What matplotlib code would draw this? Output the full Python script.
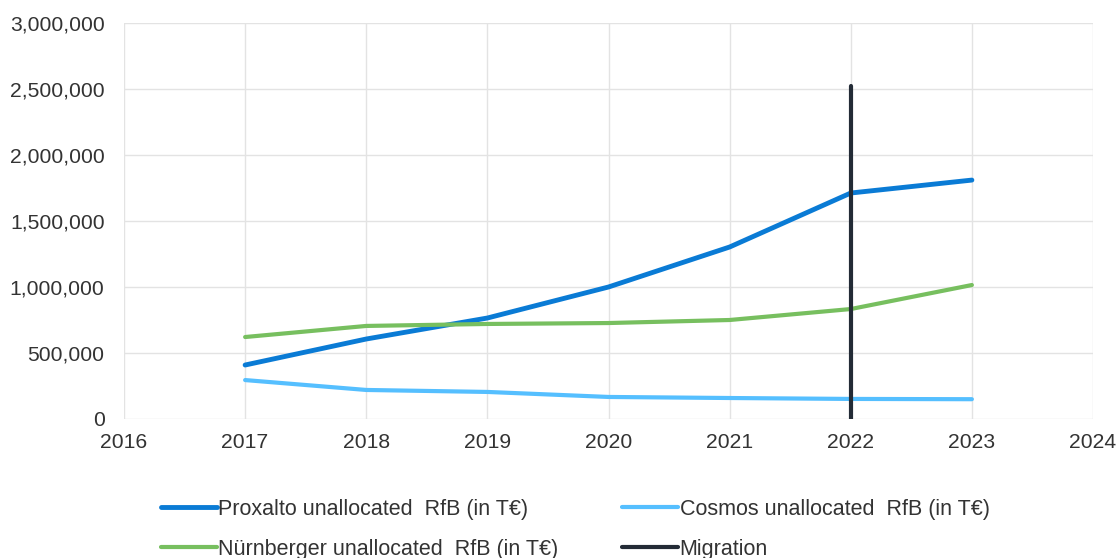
import matplotlib.pyplot as plt
from matplotlib.ticker import FuncFormatter

plt.rcParams['font.family'] = ['Liberation Sans', 'DejaVu Sans']

# values
years = [2017, 2018, 2019, 2020, 2021, 2022, 2023]
proxalto = [409000, 606000, 765000, 1000000, 1303000, 1712000, 1810000]
cosmos = [295000, 220000, 205000, 167000, 159000, 152000, 150000]
nuernberger = [621000, 705000, 720000, 727000, 750000, 833000, 1015000]
migration_x = [2022, 2022]
migration_y = [0, 2523000]

labels = ['Proxalto unallocated  RfB (in T€)', 'Cosmos unallocated  RfB (in T€)',
          'Nürnberger unallocated  RfB (in T€)', 'Migration']

text_color = '#333333'

fig = plt.figure(figsize=(11.19, 5.58), dpi=100)
ax = fig.add_axes([124 / 1119, 1 - 419 / 558, (1093 - 124) / 1119, (419 - 23) / 558])

l1, = ax.plot(years, proxalto, color='#0a7bd5', lw=3.5, solid_capstyle='round', zorder=3)
l2, = ax.plot(years, cosmos, color='#55bfff', lw=3.0, solid_capstyle='round', zorder=3)
l3, = ax.plot(years, nuernberger, color='#77bf5f', lw=3.0, solid_capstyle='round', zorder=3)
l4, = ax.plot(migration_x, migration_y, color='#232b36', lw=3.0, solid_capstyle='round', zorder=4)

ax.set_xlim(2016, 2024)
ax.set_ylim(0, 3000000)
ax.set_xticks(range(2016, 2025))
ax.set_yticks(range(0, 3000001, 500000))
ax.yaxis.set_major_formatter(FuncFormatter(lambda v, p: f'{int(v):,}'))
ax.grid(True, color='#e3e3e3', lw=1.0)
ax.set_axisbelow(True)
for s in ax.spines.values():
    s.set_visible(False)
ax.tick_params(length=0, labelsize=15.2, colors=text_color)
ax.tick_params(axis='y', pad=14)
ax.tick_params(axis='x', pad=10)

# matplotlib fills legend columns first, so reorder to get the row layout
fig.legend([l1, l3, l2, l4], [labels[0], labels[2], labels[1], labels[3]],
           loc='upper left', bbox_to_anchor=(152 / 1119, 1 - 490 / 558),
           ncol=2, frameon=False, fontsize=15.5, handlelength=2.6, handletextpad=0.05,
           columnspacing=3.0, labelspacing=0.9, labelcolor=text_color, borderaxespad=0)

plt.savefig('out.png', dpi=100)
